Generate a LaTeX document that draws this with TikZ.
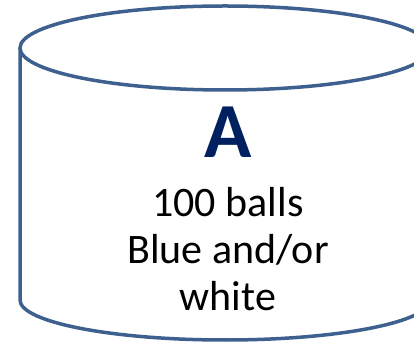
\documentclass[tikz,border=0pt]{standalone}
\usepackage{fontspec}
\setmainfont{Carlito}
\usetikzlibrary{positioning}
\definecolor{rimblue}{RGB}{62,96,143}
\definecolor{letternavy}{RGB}{0,32,96}
\tikzset{
  rim/.style={draw=rimblue, line width=3.5pt},
  bigletter/.style={font=\fontsize{78}{78}\selectfont\bfseries, text=letternavy, inner sep=0pt},
  bodytext/.style={font=\fontsize{42}{47}\selectfont, align=center, inner sep=0pt}
}
\begin{document}
\begin{tikzpicture}[x=1pt, y=1pt]
  \useasboundingbox (0,0) rectangle (414,342);
  \clip (0,0) rectangle (414,342);
  % cylinder body and top
  \draw[rim] (20,294) -- (20,42)
    arc[start angle=180, end angle=360, x radius=205, y radius=40] -- (430,294);
  \draw[rim] (225,294) ellipse[x radius=205, y radius=42];
  % texts
  \node[bigletter, anchor=base] (urn) at (228,184) {A};
  \node[bodytext, anchor=base] (contents) at (228,31) {100 balls\\Blue and/or\\white};
\end{tikzpicture}
\end{document}
